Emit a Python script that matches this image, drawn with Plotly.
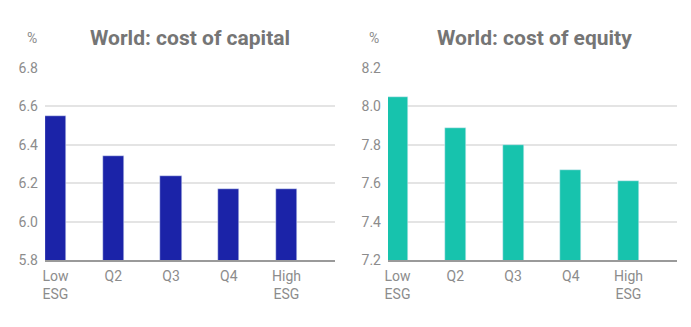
import plotly.graph_objects as go

# ESG quintiles
categories = ["Low<br>ESG", "Q2", "Q3", "Q4", "High<br>ESG"]
cost_of_capital = [6.55, 6.34, 6.24, 6.17, 6.17]
cost_of_equity = [8.05, 7.89, 7.80, 7.67, 7.61]
capital_ticks = [5.8, 6.0, 6.2, 6.4, 6.6, 6.8]
equity_ticks = [7.2, 7.4, 7.6, 7.8, 8.0, 8.2]

W, H = 691, 327
FONT = "Roboto"
TICK_GREY = "#8c8c8c"
GRID = "#e4e4e4"
pos = list(range(len(categories)))

fig = go.Figure()
fig.add_trace(go.Bar(x=pos, y=cost_of_capital, marker_color="#1b23a8",
                     width=0.364, xaxis="x", yaxis="y", hoverinfo="y"))
fig.add_trace(go.Bar(x=pos, y=cost_of_equity, marker_color="#17c3ad",
                     width=0.364, xaxis="x2", yaxis="y2", hoverinfo="y"))

y_dom = [(H - 260) / H, (H - 68) / H]


def xaxis(domain, anchor, rng):
    return dict(domain=domain, anchor=anchor, range=rng, tickmode="array",
                tickvals=pos, ticktext=categories, showgrid=False,
                zeroline=False, showline=True, linecolor="#9a9a9a",
                linewidth=1.5, ticks="", ticklabelstandoff=2,
                automargin=False,
                tickfont=dict(family=FONT, size=14, color=TICK_GREY))


def yaxis(domain, anchor, ticks):
    return dict(domain=domain, anchor=anchor, range=[ticks[0], ticks[-1]],
                tickmode="array", tickvals=ticks,
                ticktext=[f"{t:.1f}" for t in ticks], showgrid=True,
                gridcolor=GRID, gridwidth=1.5, zeroline=False,
                showline=False, ticks="", ticklabelstandoff=6,
                automargin=False,
                tickfont=dict(family=FONT, size=14, color=TICK_GREY))


fig.update_layout(
    width=W, height=H,
    margin=dict(l=0, r=0, t=0, b=0),
    paper_bgcolor="white", plot_bgcolor="white",
    showlegend=False, bargap=0,
    xaxis=xaxis([45 / W, 335 / W], "y", [-0.182, 4.84]),
    yaxis=yaxis(y_dom, "x", capital_ticks),
    xaxis2=xaxis([388 / W, 677 / W], "y2", [-0.165, 4.84]),
    yaxis2=yaxis(y_dom, "x2", equity_ticks),
)

title_y = 1 - 38 / H
for cx, text in [(189.5, "World: cost of capital"), (534, "World: cost of equity")]:
    fig.add_annotation(x=cx / W, y=title_y, xref="paper", yref="paper",
                       text=f"<b>{text}</b>", showarrow=False,
                       xanchor="center", yanchor="middle",
                       font=dict(family=FONT, size=21, color="#757575"))
for cx in [32, 374]:
    fig.add_annotation(x=cx / W, y=title_y, xref="paper", yref="paper",
                       text="%", showarrow=False, xanchor="center",
                       yanchor="middle",
                       font=dict(family=FONT, size=14, color=TICK_GREY))

fig.write_html("out.html")
